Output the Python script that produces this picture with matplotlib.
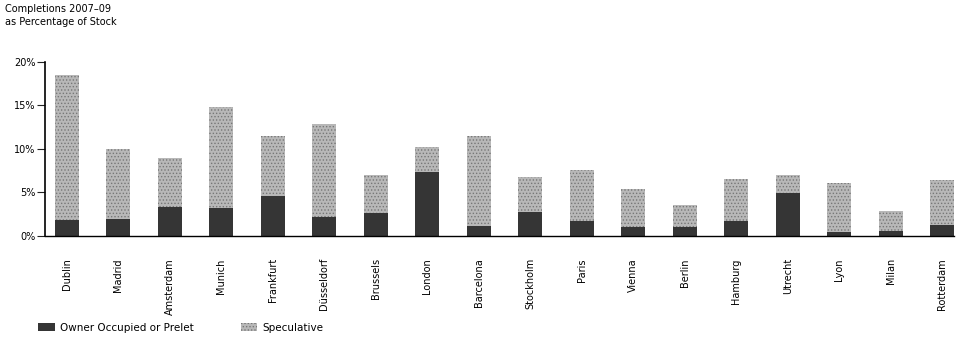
import matplotlib.pyplot as plt
from matplotlib.ticker import FuncFormatter
import numpy as np

cities = ['Dublin', 'Madrid', 'Amsterdam', 'Munich', 'Frankfurt', 'Düsseldorf',
          'Brussels', 'London', 'Barcelona', 'Stockholm', 'Paris', 'Vienna',
          'Berlin', 'Hamburg', 'Utrecht', 'Lyon', 'Milan', 'Rotterdam']
owner = [1.8, 2.0, 3.3, 3.2, 4.6, 2.2, 2.6, 7.4, 1.1, 2.7, 1.7, 1.0,
         1.0, 1.7, 4.9, 0.4, 0.6, 1.3]
total = [18.5, 10.0, 9.0, 14.8, 11.5, 12.9, 7.0, 10.2, 11.5, 6.8, 7.6, 5.4,
         3.5, 6.6, 7.0, 6.1, 2.9, 6.4]
speculative = [t - o for t, o in zip(total, owner)]

yticks = [0, 5, 10, 15, 20]

plt.rcParams['font.family'] = ['DejaVu Sans']
plt.rcParams['hatch.linewidth'] = 0.6

fig = plt.figure(figsize=(9.57, 3.58), dpi=100)
ax = fig.add_axes([0.047, 0.341, 0.95, 0.486])

x = np.arange(len(cities))
w = 0.47
ax.bar(x, owner, w, color='#353535', edgecolor='#353535', linewidth=0,
       label='Owner Occupied or Prelet')
ax.bar(x, speculative, w, bottom=owner, color='#b8b8b8', edgecolor='#777777',
       hatch='.....', linewidth=0, label='Speculative')

ax.set_ylim(0, 20)
ax.set_xlim(-0.42, 17.23)
ax.set_yticks(yticks)
ax.yaxis.set_major_formatter(FuncFormatter(lambda v, p: f'{int(v)}%'))
ax.tick_params(axis='y', labelsize=7, length=6, width=0.8, pad=1, color='#222222')
ax.set_xticks(x)
ax.set_xticklabels(cities, rotation=90, fontsize=7, va='top')
ax.tick_params(axis='x', length=0, pad=16)

for s in ['top', 'right']:
    ax.spines[s].set_visible(False)
ax.spines['left'].set_linewidth(1.2)
ax.spines['bottom'].set_linewidth(1.0)

fig.text(0.005, 0.99, 'Completions 2007–09\nas Percentage of Stock', fontsize=7,
         va='top', ha='left', linespacing=1.4)

fig.legend(loc='lower left', bbox_to_anchor=(0.03, 0.045), ncol=2, frameon=False,
           fontsize=7.5, handlelength=1.6, handleheight=0.8, columnspacing=4.5,
           handletextpad=0.5)

fig.savefig('out.png', dpi=100)
